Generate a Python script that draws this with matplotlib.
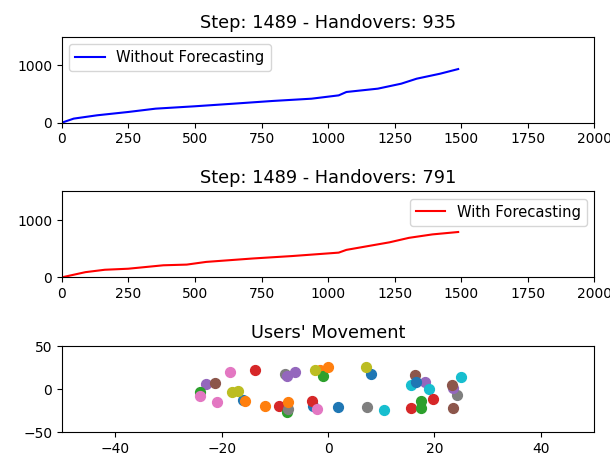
import matplotlib
matplotlib.use("Agg")
import matplotlib.pyplot as plt

# Cumulative handover counts over the simulation steps
steps_without = [0, 44, 132, 249, 352, 498, 645, 791, 938, 1040, 1069, 1187, 1275, 1333, 1421, 1489]
handovers_without = [0, 70, 128, 186, 244, 285, 331, 378, 418, 476, 535, 593, 680, 767, 854, 935]

steps_with = [0, 88, 161, 249, 381, 469, 542, 718, 864, 1040, 1069, 1231, 1304, 1392, 1489]
handovers_with = [0, 90, 132, 150, 210, 222, 269, 329, 371, 431, 479, 611, 689, 749, 791]

final_step = 1489

# Final user positions (one entry per user, in plotting order)
user_x = [-16.0, -1.5, -1.0, -13.8, -23.0, -21.3, -18.5, -8.1, -18.0, 15.5,
          -2.9, -11.9, -24.0, -9.2, 18.3, 16.4, -24.0, 24.3, -16.9, 18.9,
          8.1, -15.7, -7.7, -3.1, 23.5, 23.3, -20.9, -7.5, -2.5, 24.9,
          16.6, -7.5, 17.5, 15.5, -7.8, 23.5, -2.0, 7.3, 7.2, 10.6,
          1.9, 0.0, 17.5, 19.7, -6.2]
user_y = [-13.0, 22.7, 15.7, 22.7, 6.0, 7.2, 19.5, 18.0, -3.3, 5.2,
          -19.2, -20.0, -3.7, -20.0, 8.4, 16.9, -8.4, -7.2, -2.6, 0.2,
          18.0, -14.2, -26.9, -14.2, 1.4, 5.2, -14.9, -23.0, 22.7, 14.2,
          8.4, -15.3, -14.2, -22.3, 14.9, -22.3, -23.8, -21.2, 25.8, -24.7,
          -21.2, 25.5, -21.9, -11.4, 20.0]

fig = plt.figure(figsize=(6.1, 4.57), dpi=100)
fig.subplots_adjust(left=0.1016, right=0.974, top=0.9197, bottom=0.0547, hspace=0.8)
ax1 = fig.add_subplot(3, 1, 1)
ax2 = fig.add_subplot(3, 1, 2)
ax3 = fig.add_subplot(3, 1, 3)

ax1.plot(steps_without, handovers_without, color="b", label="Without Forecasting")
ax1.set_xlim(0, 2000)
ax1.set_ylim(0, 1500)
ax1.set_yticks([0, 1000])
ax1.set_title(f"Step: {final_step} - Handovers: {handovers_without[-1]}", fontsize=12.8)
ax1.legend(loc="upper left", fontsize=10.6)

ax2.plot(steps_with, handovers_with, color="r", label="With Forecasting")
ax2.set_xlim(0, 2000)
ax2.set_ylim(0, 1500)
ax2.set_yticks([0, 1000])
ax2.set_title(f"Step: {final_step} - Handovers: {handovers_with[-1]}", fontsize=12.8)
ax2.legend(loc="upper right", fontsize=10.6)

for x, y in zip(user_x, user_y):
    ax3.scatter(x, y, s=50)
ax3.set_xlim(-50, 50)
ax3.set_ylim(-50, 50)
ax3.set_title("Users' Movement", fontsize=12.8)

fig.savefig("out.png", dpi=100)
